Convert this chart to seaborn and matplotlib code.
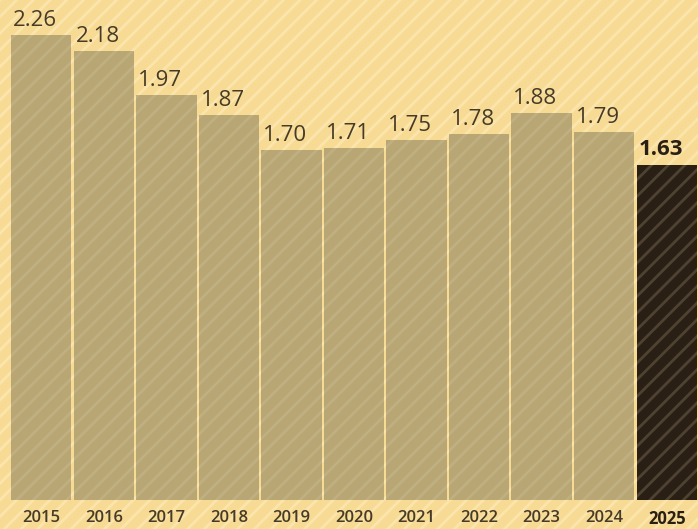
import numpy as np
import pandas as pd
import seaborn as sns
from matplotlib import pyplot as plt
from matplotlib.patches import Rectangle

years = ['2015', '2016', '2017', '2018', '2019', '2020', '2021', '2022', '2023', '2024', '2025']
values = [2.26, 2.18, 1.97, 1.87, 1.70, 1.71, 1.75, 1.78, 1.88, 1.79, 1.63]
labels = ['2.26', '2.18', '1.97', '1.87', '1.70', '1.71', '1.75', '1.78', '1.88', '1.79', '1.63']

bg = '#f7db94'
bg_stripe = '#fbe5ad'
bar_col = '#b8a674'
bar_stripe = '#c0af80'
dark_col = '#2a1f14'
dark_stripe = '#4e4232'
text_col = '#463b27'

sns.set_style('white')
plt.rcParams['font.family'] = ['Open Sans', 'DejaVu Sans']
plt.rcParams['hatch.linewidth'] = 2.0

df = pd.DataFrame({'year': years, 'value': values})
colors = [bar_col] * (len(years) - 1) + [dark_col]

fig = plt.figure(figsize=(6.98, 5.29), dpi=100, facecolor=bg)
# striped background
fig.patches.append(Rectangle((0, 0), 1, 1, transform=fig.transFigure, facecolor=bg,
                             edgecolor=bg_stripe, hatch='//', lw=0, zorder=-1))
ax = fig.add_axes([10 / 698, 29 / 529, 688 / 698, 500 / 529])
ax.set_facecolor('none')

sns.barplot(df, x='year', y='value', hue='year', palette=colors, legend=False,
            width=0.965, linewidth=0, saturation=1, ax=ax)

# hatch overlay on each bar
for i, p in enumerate(list(ax.patches)):
    last = i == len(years) - 1
    stripe = dark_stripe if last else bar_stripe
    ax.add_patch(Rectangle((p.get_x(), 0), p.get_width(), p.get_height(), fill=False,
                           edgecolor=stripe, hatch='//', lw=0, zorder=3))
    ax.text(p.get_x() + 0.03, p.get_height() + 0.02, labels[i], ha='left', va='bottom',
            fontsize=16, color=dark_col if last else text_col,
            fontweight='bold' if last else 'normal', zorder=4)

ax.set_xlim(-0.5, 10.5)
ax.set_ylim(0, 2.43)
ax.set_xlabel('')
ax.set_ylabel('')
ax.set_yticks([])
ax.tick_params(axis='x', length=0, pad=7)
for t, lab in zip(ax.get_xticklabels(), years):
    t.set_color(dark_col if lab == '2025' else text_col)
    t.set_fontsize(12)
    t.set_fontweight('bold' if lab == '2025' else 'semibold')
sns.despine(ax=ax, left=True, bottom=True)

plt.savefig('out.png', dpi=100, facecolor=bg)
